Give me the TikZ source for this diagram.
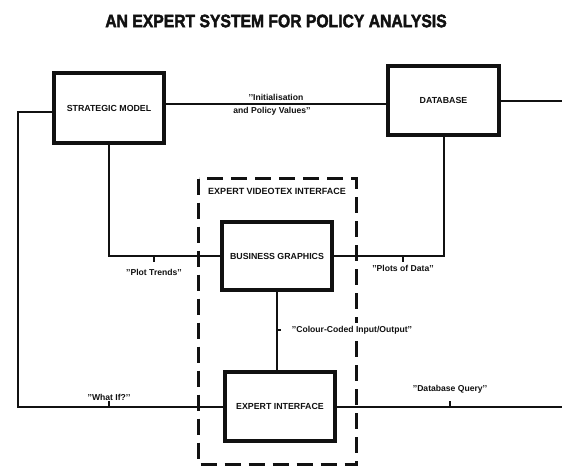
\documentclass[tikz,border=0pt]{standalone}
\usepackage{fontspec}
\setmainfont{Liberation Sans}
\newfontfamily\titlefont[FakeBold=2.5]{Liberation Sans Bold}
\usepackage{xcolor}
\usetikzlibrary{calc}
\definecolor{ink}{HTML}{111111}
\definecolor{paper}{HTML}{FFFFFF}
\newcommand{\qq}{{'}{'}}
\tikzset{
  sysbox/.style={draw=ink, line width=3.5pt, fill=paper, minimum width=110pt, minimum height=70pt,
    font=\bfseries\fontsize{8.8}{10}\selectfont, text=ink},
  link/.style={draw=ink, line width=2pt},
  vtxframe/.style={draw=ink, line width=3pt, dash pattern=on 16pt off 8pt},
  lab/.style={font=\bfseries\fontsize{8.6}{9}\selectfont, text=ink, inner sep=1pt},
  tick/.style={draw=ink, line width=1.5pt}
}

\begin{document}
\begin{tikzpicture}[x=1pt,y=-1pt]
  \useasboundingbox (0,0) rectangle (562,469);
  \node[text=ink, font=\titlefont\fontsize{15.7}{18}\selectfont] (title) at (276,21)
    {\scalebox{1}[1.15]{AN EXPERT SYSTEM FOR POLICY ANALYSIS}};

  % dashed frame round the videotex part
  \draw[vtxframe] (198.5,178.5) rectangle (356.5,464.5);
  \node[lab, font=\bfseries\fontsize{9}{10}\selectfont] (vtx) at (277,191) {EXPERT VIDEOTEX INTERFACE};

  % the four boxes
  \node[sysbox] (sm) at (109,108) {STRATEGIC MODEL};
  \node[sysbox, minimum width=111pt, minimum height=69pt] (db) at (443.5,100.5) {DATABASE};
  \node[sysbox, minimum height=68pt] (bg) at (277,256) {BUSINESS GRAPHICS};
  \node[sysbox, minimum height=69pt] (ei) at (280,406.5) {EXPERT INTERFACE};

  \coordinate (mid) at (276,104);
  \coordinate (swc) at (18,406.5);
  \coordinate (dbout) at (562,99);
  \coordinate (eiout) at (562,405);

  % connectors
  \draw[link] (sm.east |- mid) -- (db.west |- mid);
  \draw[link] (db.east) -- (db.east -| dbout);
  \draw[link] ($(sm.west)+(0,4)$) -| (swc) -- (ei.west);
  \draw[link] (sm.south) |- (bg.west);
  \draw[link] (db.south) |- (bg.east);
  \draw[link] (bg.south) -- (bg.south |- ei.north);
  \draw[link] (ei.east) -- (ei.east -| eiout);

  % labels on the links
  \node[lab] (init) at (276,97) {\qq Initialisation};
  \node[lab] (polval) at (272,111) {and Policy Values\qq};
  \node[lab] (ptr) at (154,272) {\qq Plot Trends\qq};
  \node[lab] (pod) at (403,268) {\qq Plots of Data\qq};
  \node[lab, fill=paper, inner sep=3pt] (cci) at (352,330) {\qq Colour-Coded Input/Output\qq};
  \node[lab] (wif) at (109,397) {\qq What If?\qq};
  \node[lab] (dbq) at (450,389) {\qq Database Query\qq};

  \draw[tick] (ptr.north |- bg.west) -- ++(0,6);
  \draw[tick] (pod.north |- bg.east) -- ++(0,6);
  \draw[tick] (wif.south |- ei.west) -- ++(0,-6);
  \draw[tick] (dbq.south |- ei.east) -- ++(0,-6);
  \draw[tick] (bg.south |- cci.west) -- ++(4,0);
\end{tikzpicture}
\end{document}
